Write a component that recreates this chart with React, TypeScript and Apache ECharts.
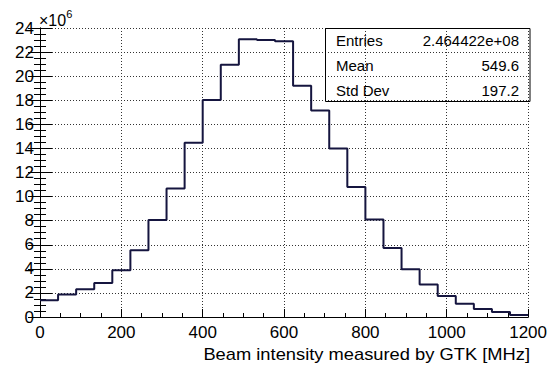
import React, { useEffect, useRef } from "react";
import * as echarts from "echarts";

// Histogram: 27 bins from 0 to 1200 MHz, counts in units of 10^6
const xMin = 0;
const xMax = 1200;
const binCount = 27;
const counts = [
  1.39, 1.86, 2.3, 2.83, 3.89, 5.55, 8.05, 10.68, 14.48, 18.03, 20.94, 23.07, 23.0,
  22.9, 19.2, 17.14, 14.0, 10.8, 8.1, 5.74, 3.97, 2.69, 1.75, 1.11, 0.67, 0.42, 0.17,
];
const statsLabels = ["Entries", "Mean", "Std Dev"];
const statsValues = ["2.464422e+08", "549.6", "197.2"];
const xTitle = "Beam intensity measured by GTK [MHz]";

const FONT = "'Liberation Sans', Arial, Helvetica, sans-serif";

export default function App() {
  const ref = useRef<HTMLDivElement>(null);
  useEffect(() => {
    if (!ref.current) return;
    const chart = echarts.init(ref.current, undefined, { renderer: "svg" });
    const binWidth = (xMax - xMin) / binCount;
    const stepData: [number, number][] = counts.map((c, i) => [xMin + i * binWidth, c]);
    stepData.push([xMax, counts[counts.length - 1]]);

    const gridLeft = 40;
    const gridRight = 20;
    const gridTop = 28;
    const gridBottom = 50;
    const plotRight = 550 - gridRight;

    const tickCommon = {
      axisLine: { show: true, lineStyle: { color: "#000", width: 1 } },
      splitLine: { show: false },
    };

    chart.setOption({
      animation: false,
      backgroundColor: "#fff",
      grid: {
        left: gridLeft,
        right: gridRight,
        top: gridTop,
        bottom: gridBottom,
        show: false,
      },
      xAxis: [
        {
          type: "value",
          min: xMin,
          max: xMax,
          interval: 200,
          position: "bottom",
          ...tickCommon,
          axisTick: { show: true, inside: true, length: 8, lineStyle: { color: "#000" } },
          minorTick: { show: true, splitNumber: 4, length: 4, lineStyle: { color: "#000" } },
          splitLine: {
            show: true,
            lineStyle: { color: "#333", width: 1, type: [1, 2] },
          },
          axisLabel: {
            color: "#000",
            fontFamily: FONT,
            fontSize: 17,
            margin: 7,
            formatter: (v: number) => String(v),
          },
        },
        {
          type: "value",
          min: xMin,
          max: xMax,
          position: "top",
          axisLine: { show: true, lineStyle: { color: "#000", width: 1 } },
          axisTick: { show: false },
          axisLabel: { show: false },
          splitLine: { show: false },
        },
      ],
      yAxis: [
        {
          type: "value",
          min: 0,
          max: 24,
          interval: 2,
          position: "left",
          ...tickCommon,
          axisTick: { show: true, inside: true, length: 12, lineStyle: { color: "#000" } },
          minorTick: { show: true, splitNumber: 4, length: 6, lineStyle: { color: "#000" } },
          splitLine: {
            show: true,
            lineStyle: { color: "#333", width: 1, type: [1, 2] },
          },
          axisLabel: {
            color: "#000",
            fontFamily: FONT,
            fontSize: 17,
            margin: 6,
            formatter: (v: number) => String(v),
          },
        },
        {
          type: "value",
          min: 0,
          max: 24,
          interval: 2,
          position: "right",
          ...tickCommon,
          axisTick: { show: true, inside: true, length: 12, lineStyle: { color: "#000" } },
          minorTick: { show: true, splitNumber: 4, length: 6, lineStyle: { color: "#000" } },
          axisLabel: { show: false },
        },
      ],
      series: [
        {
          type: "line",
          step: "end",
          data: stepData,
          xAxisIndex: 0,
          yAxisIndex: 0,
          symbol: "none",
          lineStyle: { color: "#15153f", width: 2 },
          z: 5,
        },
      ],
      graphic: [
        {
          type: "text",
          left: 39,
          top: 8,
          style: {
            text: "{a|×10}{b|6}",
            rich: {
              a: { fontFamily: FONT, fontSize: 16, fill: "#000", verticalAlign: "bottom", padding: [4, 0, 0, 0] },
              b: { fontFamily: FONT, fontSize: 11, fill: "#000", verticalAlign: "top", padding: [0, 0, 6, 0] },
            },
          },
        },
        {
          type: "rect",
          shape: { x: 325.5, y: gridTop + 0.5, width: plotRight - 325.5, height: 73 },
          style: { fill: "rgba(255,255,255,0)", stroke: "#000", lineWidth: 1 },
          z: 10,
        },
        ...statsLabels.map((lab, i) => ({
          type: "text",
          x: 336,
          y: 40 + i * 25,
          style: {
            text: lab,
            fontFamily: FONT,
            fontSize: 15,
            fill: "#000",
            align: "left",
            verticalAlign: "middle",
          },
          z: 11,
        })),
        ...statsValues.map((val, i) => ({
          type: "text",
          x: 519,
          y: 40 + i * 25,
          style: {
            text: val,
            fontFamily: FONT,
            fontSize: 15,
            fill: "#000",
            align: "right",
            verticalAlign: "middle",
          },
          z: 11,
        })),
        {
          type: "text",
          x: plotRight,
          y: 354,
          scaleX: 1.145,
          style: {
            text: xTitle,
            fontFamily: FONT,
            fontSize: 16,
            fill: "#000",
            align: "right",
            verticalAlign: "middle",
          },
        },
      ],
    });
    return () => chart.dispose();
  }, []);
  return (
    <div
      ref={ref}
      style={{ position: "fixed", left: 0, top: 0, width: 550, height: 367 }}
    />
  );
}
